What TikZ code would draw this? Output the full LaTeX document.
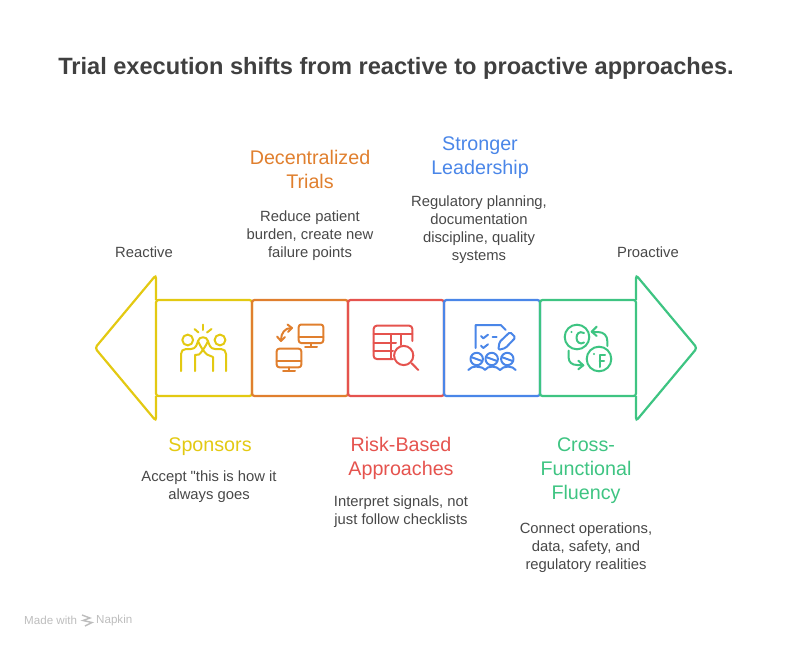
\documentclass[tikz,border=0pt]{standalone}
\usepackage{fontspec}
\setmainfont{Liberation Sans}[Ligatures=TeXOff]
\definecolor{sponsorcol}{HTML}{E3C912}
\definecolor{decentcol}{HTML}{E07F2E}
\definecolor{riskcol}{HTML}{E5534E}
\definecolor{leadcol}{HTML}{4A86E8}
\definecolor{crosscol}{HTML}{3EC482}
\definecolor{inkcol}{HTML}{484848}
\definecolor{titlecol}{HTML}{404040}
\definecolor{markcol}{HTML}{BDBDBD}
\tikzset{
  stagebox/.style={draw, line width=2.2pt, rounded corners=2.5pt, minimum width=96pt, minimum height=96pt, inner sep=0pt, outer sep=0pt},
  iconline/.style={line width=2pt, line cap=round, line join=round},
  headtext/.style={align=center, inner sep=0pt, font=\fontsize{19.7}{24}\selectfont},
  bodytext/.style={align=center, inner sep=0pt, text=inkcol, font=\fontsize{14.8}{18}\selectfont},
}
\begin{document}
\begin{tikzpicture}[x=1pt, y=-1pt]
\useasboundingbox (0,0) rectangle (792,648);
\node[inner sep=0pt, text=titlecol, font=\fontsize{23.6}{29}\selectfont\bfseries] (title) at (396,68) {Trial execution shifts from reactive to proactive approaches.};

\node[stagebox, draw=sponsorcol] (sponsorsbox) at (204,348) {};
\node[stagebox, draw=decentcol] (decentbox) at (300,348) {};
\node[stagebox, draw=riskcol] (riskbox) at (396,348) {};
\node[stagebox, draw=leadcol] (leadbox) at (492,348) {};
\node[stagebox, draw=crosscol] (crossbox) at (588,348) {};

% arrow heads
\coordinate (lefttip) at (95,348);
\coordinate (righttip) at (697,348);
\draw[sponsorcol, line width=2.2pt, line join=round] ([xshift=5pt]sponsorsbox.north west) -- (sponsorsbox.north west);
\draw[sponsorcol, line width=2.2pt, line join=round] ([xshift=5pt]sponsorsbox.south west) -- (sponsorsbox.south west);
\draw[sponsorcol, line width=2.2pt, rounded corners=3pt] (sponsorsbox.north west) -- (156,275) -- (lefttip) -- (156,421) -- (sponsorsbox.south west);
\draw[crosscol, line width=2.2pt, line join=round] ([xshift=-5pt]crossbox.north east) -- (crossbox.north east);
\draw[crosscol, line width=2.2pt, line join=round] ([xshift=-5pt]crossbox.south east) -- (crossbox.south east);
\draw[crosscol, line width=2.2pt, rounded corners=3pt] (crossbox.north east) -- (636,275) -- (righttip) -- (636,421) -- (crossbox.south east);

% sponsors icon
\begin{scope}[iconline, sponsorcol]
\draw (187.7,340) circle (5.4);
\draw (220,340) circle (5.4);
\draw (203,324.5) -- (203,330);
\draw (194.5,329) -- (198.5,332.5);
\draw (211.5,329) -- (207,332.5);
\draw (181,371) -- (181,354) .. controls (181,351) and (183,349) .. (186,349) -- (191,349) .. controls (196,349) and (197,344) .. (198,341) .. controls (199,336) and (207,336) .. (208,341) .. controls (209,344) and (210,349) .. (215,349) -- (221,349) .. controls (224,349) and (226,351) .. (226,354) -- (226,371);
\draw (195,371) -- (195,355) -- (199,354.5) .. controls (201,353) and (206,346) .. (208,341);
\draw (213,371) -- (213,357) -- (207,354.5) .. controls (204,352) and (200,346) .. (198,341);
\end{scope}

% decentralized icon
\begin{scope}[iconline, decentcol]
\draw[rounded corners=2.5pt] (298.7,324.5) rectangle (323.3,343);
\draw (298.7,337) -- (323.3,337);
\draw (311,343) -- (311,347);
\draw (305,347) -- (317,347);
\draw[rounded corners=2.5pt] (276.7,348.7) rectangle (301.3,367.3);
\draw (276.7,360.7) -- (301.3,360.7);
\draw (289,367.3) -- (289,371);
\draw (283,371) -- (295,371);
\draw (291,328) .. controls (285,328) and (281,333) .. (281,340);
\draw (287.5,324.5) -- (292,328) -- (288,332);
\draw (277,336.5) -- (281,341) -- (285,337);
\end{scope}

% risk icon
\begin{scope}[iconline, riskcol]
\draw[rounded corners=3pt] (412.3,341) -- (412.3,325.7) -- (373.7,325.7) -- (373.7,359) -- (393,359);
\draw (373.7,334) -- (412.3,334);
\draw (373.7,343) -- (396,343);
\draw (373.7,350.5) -- (393,350.5);
\draw (390.7,334) -- (390.7,359);
\draw (400.7,334) -- (400.7,345);
\draw (403.7,355.5) circle (9.6);
\draw (411.7,363.3) -- (418.3,370);
\end{scope}

% leadership icon
\begin{scope}[iconline, leadcol]
\draw (475.7,348) -- (475.7,325) -- (500.7,325) -- (505.7,330);
\draw (481,336) -- (483.3,338.3) -- (488,334.7);
\draw (481,345.7) -- (483.3,348) -- (488,344.3);
\draw (492.7,336.7) -- (496.7,336.7);
\draw[rounded corners=1.5pt] (498.3,350) -- (499.5,342) -- (510,332) -- (515.5,337.5) -- (505.5,348) -- cycle;
\draw (476.7,359) circle (6.2);
\draw (491.7,359) circle (6.2);
\draw (507.3,359) circle (6.2);
\draw (471,357) -- (482,361);
\draw (486,357) -- (497,361);
\draw (501.5,357) -- (512.5,361);
\draw (468.3,370) .. controls (471,365.5) and (482,365.5) .. (485,370) .. controls (487,365.5) and (497,365.5) .. (500,370) .. controls (503,365.5) and (513,365.5) .. (515.7,370);
\end{scope}

% cross-functional icon
\begin{scope}[iconline, crosscol]
\draw (577,337) circle (12.3);
\draw (599,359) circle (12.3);
\draw (584,333) .. controls (579,330.5) and (576.5,334) .. (576.5,338) .. controls (576.5,342) and (580,345) .. (584,342.5);
\fill (571.5,332) circle (1.2);
\draw (599.5,367) -- (599.5,355) -- (605,355);
\draw (599.5,361) -- (604,361);
\fill (594,354) circle (1.2);
\draw (607.3,346) -- (607.3,341) .. controls (607.3,336) and (604,332) .. (598,332) -- (592,332);
\draw (596.7,326.7) -- (591.7,331.7) -- (596.7,336);
\draw (568.7,350.7) -- (568.7,358) .. controls (568.7,362) and (572,365) .. (577,365) -- (583.3,365.3);
\draw (578.3,360.7) -- (583.3,365.3) -- (578.3,369.3);
\end{scope}

\node[bodytext] (reactive) at (144,252.5) {Reactive};
\node[bodytext] (proactive) at (648,252.5) {Proactive};

\node[headtext, text=decentcol] (decenthead) at (310,169.5) {Decentralized\\Trials};
\node[bodytext] (decenttext) at (310,236) {Reduce patient\\burden, create new\\failure points};
\node[headtext, text=leadcol] (leadhead) at (480,158) {Stronger\\Leadership};
\node[bodytext] (leadtext) at (479,230) {Regulatory planning,\\documentation\\discipline, quality\\systems};
\node[headtext, text=sponsorcol] (sponsorshead) at (210,446.5) {Sponsors};
\node[bodytext] (sponsorstext) at (209,487) {Accept "this is how it\\always goes};
\node[headtext, text=riskcol] (riskhead) at (401,458.5) {Risk-Based\\Approaches};
\node[bodytext] (risktext) at (401,512) {Interpret signals, not\\just follow checklists};
\node[headtext, text=crosscol] (crosshead) at (586,470.5) {Cross-\\Functional\\Fluency};
\node[bodytext] (crosstext) at (586,548) {Connect operations,\\data, safety, and\\regulatory realities};

\node[anchor=west, inner sep=0pt, text=markcol, font=\fontsize{11.6}{13}\selectfont] (madewith) at (24,620.5) {Made with};
\node[anchor=west, inner sep=0pt, text=markcol, font=\fontsize{11.6}{13}\selectfont] (napkin) at (96,620.5) {Napkin};
\draw[markcol, line width=1.4pt] (82,615) -- (90,618) -- (83,620.5) -- (92,622.5) -- (85,626);
\end{tikzpicture}
\end{document}
